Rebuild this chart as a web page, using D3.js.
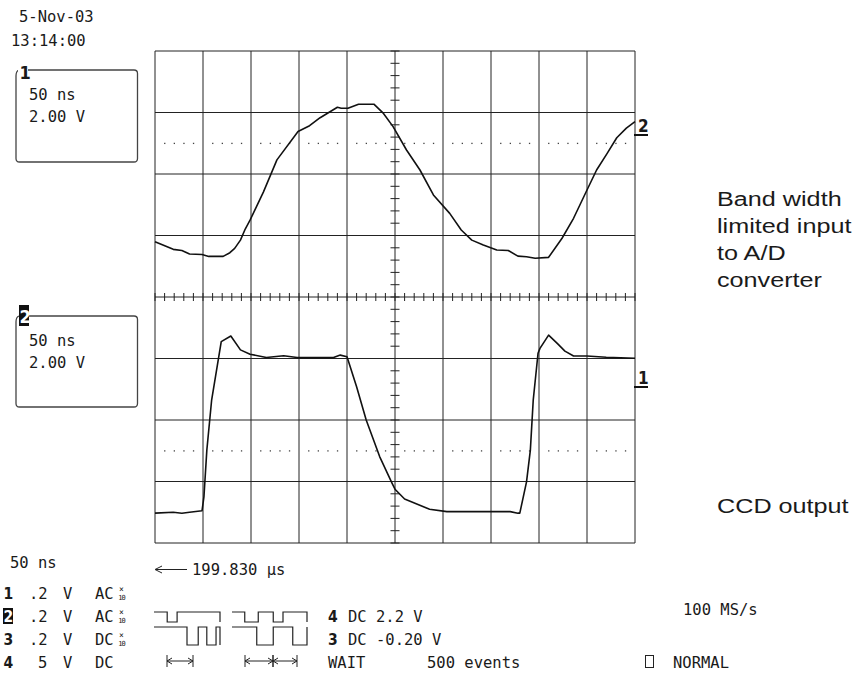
<!DOCTYPE html>
<html>
<head>
<meta charset="utf-8">
<script src="https://cdnjs.cloudflare.com/ajax/libs/d3/7.8.5/d3.min.js"></script>
<style>
  body { margin: 0; background: #fff; }
  text { font-family: "DejaVu Sans Mono", monospace; fill: #1a1a1a; }
</style>
</head>
<body>
<svg id="chart" width="864" height="674"></svg>
<script>
// channel 2 : band width limited input to A/D (time in ns, volts)
const ch2Time = [0, 19, 28, 36, 49, 56, 71, 78, 83, 89, 94, 99, 113, 127, 149, 161, 172, 190, 194, 201,
  212, 228, 238, 248, 262, 276, 290, 307, 319, 330, 342, 356, 368, 378, 387, 396, 410, 424, 436, 450,
  460, 471, 481, 491, 500];
const ch2Volts = [1.80, 1.55, 1.51, 1.40, 1.38, 1.32, 1.32, 1.44, 1.58, 1.85, 2.21, 2.50, 3.42, 4.46, 5.38,
  5.57, 5.83, 6.17, 6.14, 6.14, 6.27, 6.27, 5.97, 5.54, 4.78, 4.13, 3.32, 2.72, 2.18, 1.85, 1.69, 1.53,
  1.51, 1.33, 1.31, 1.26, 1.29, 1.91, 2.56, 3.48, 4.13, 4.67, 5.18, 5.49, 5.70];

// channel 1 : CCD output
const ch1Time = [0, 19, 28, 36, 49, 51, 54, 59, 69, 79, 89, 99, 116, 134, 148, 186, 193, 200, 210, 220,
  234, 247, 250, 260, 286, 304, 370, 378, 380, 387, 391, 394, 399, 401, 410, 419, 427, 436, 450, 470, 500];
const ch1Volts = [-7.03, -7.00, -7.03, -7.00, -6.95, -6.49, -4.98, -3.35, -1.45, -1.27, -1.72, -1.86, -1.97,
  -1.91, -1.97, -1.97, -1.89, -1.94, -2.92, -4.00, -5.19, -6.06, -6.25, -6.57, -6.90, -6.98, -6.98, -7.03,
  -7.03, -6.01, -4.98, -3.35, -1.83, -1.67, -1.24, -1.51, -1.76, -1.92, -1.92, -1.96, -1.99];

const gridTimes = d3.range(0, 501, 50);
const gridVolts = d3.range(-8, 8.01, 2);
const refVolts = [5, -5];          // dotted level lines

const stampLines = ['5-Nov-03', '13:14:00'];
const boxLines = ['50 ns', '2.00 V'];
const noteLines = ['Band width', 'limited input', 'to A/D', 'converter'];
const noteBottom = 'CCD output';

const chanIds = ['1', '2', '3', '4'];
const chanScale = ['.2', '.2', '.2', '5'];
const chanCoupling = ['AC', 'AC', 'DC', 'DC'];
const chanProbe = [true, true, true, false];

// trigger pattern icons: level toggles along a 0..1 run
const patternTop = [[0, 0.2, 0.35, 1], [0, 0.17, 0.35, 0.55, 0.68, 1]];
const patternLow = [[0, 0.5, 0.67, 0.8, 0.94, 1], [0, 0.33, 0.55, 0.81, 1]];

const svg = d3.select('#chart');
const x = d3.scaleLinear().domain([0, 500]).range([155, 635]);
const y = d3.scaleLinear().domain([-8, 8]).range([543, 51]);

// grid
const grid = svg.append('g').attr('stroke', '#222').attr('stroke-width', 1);
grid.selectAll('line.v').data(gridTimes).join('line')
  .attr('x1', d => x(d)).attr('x2', d => x(d))
  .attr('y1', y(8)).attr('y2', y(-8));
grid.selectAll('line.h').data(gridVolts).join('line')
  .attr('x1', x(0)).attr('x2', x(500))
  .attr('y1', d => y(d)).attr('y2', d => y(d));

// centre axes with minor ticks
const minorT = d3.range(0, 501, 10);
const minorV = d3.range(-8, 8.01, 0.4);
grid.selectAll('line.tx').data(minorT).join('line')
  .attr('x1', d => x(d)).attr('x2', d => x(d))
  .attr('y1', y(0) - 4).attr('y2', y(0) + 4);
grid.selectAll('line.ty').data(minorV).join('line')
  .attr('x1', x(250) - 4.5).attr('x2', x(250) + 4.5)
  .attr('y1', d => y(d)).attr('y2', d => y(d));

// dotted reference levels
refVolts.forEach(v => {
  svg.append('g').selectAll('rect').data(minorT.filter(t => t % 50 !== 0)).join('rect')
    .attr('x', d => x(d) - 0.5).attr('y', y(v) - 0.5)
    .attr('width', 1.3).attr('height', 1.3).attr('fill', '#444');
});

// traces
const line = d3.line().x(d => x(d[0])).y(d => y(d[1]));
[[ch2Time, ch2Volts], [ch1Time, ch1Volts]].forEach(([t, v]) => {
  svg.append('path')
    .attr('d', line(t.map((d, i) => [d, v[i]])))
    .attr('fill', 'none').attr('stroke', '#111').attr('stroke-width', 1.6)
    .attr('stroke-linejoin', 'round');
});

// trace markers on the right edge
[['2', 132], ['1', 384]].forEach(([id, base]) => {
  svg.append('text').attr('x', 638).attr('y', base)
    .style('font-family', '"DejaVu Sans Condensed", "DejaVu Sans", sans-serif')
    .style('font-weight', 'bold').style('font-size', '17px').text(id);
  svg.append('line').attr('x1', 634).attr('x2', 648)
    .attr('y1', base + 3).attr('y2', base + 3)
    .attr('stroke', '#111').attr('stroke-width', 2);
});

// time stamp
svg.selectAll('text.stamp').data(stampLines).join('text')
  .attr('x', (d, i) => i ? 11 : 19).attr('y', (d, i) => 22 + i * 24)
  .style('font-size', '15.5px').text(d => d);

// channel boxes
[[70, 162, '1'], [316, 407, '2']].forEach(([top, bottom, id], k) => {
  const r = 3.5, l = 16, rt = 137.5;
  svg.append('path')
    .attr('d', `M28,${top} H${rt - r} Q${rt},${top} ${rt},${top + r} V${bottom - r} Q${rt},${bottom} ${rt - r},${bottom}` +
      ` H${l + r} Q${l},${bottom} ${l},${bottom - r} V${top + 6} Q${l},${top + 1} ${l + 3},${top}`)
    .attr('fill', 'none').attr('stroke', '#444').attr('stroke-width', 1.3);
  if (k === 1) {
    svg.append('rect').attr('x', 19).attr('y', top - 11).attr('width', 10).attr('height', 21).attr('fill', '#111');
    svg.append('text').attr('x', 19.5).attr('y', top + 7)
      .style('fill', '#fff')
      .style('font-family', '"DejaVu Sans Condensed", "DejaVu Sans", sans-serif')
      .style('font-weight', 'bold').style('font-size', '18px').text(id);
  } else {
    svg.append('rect').attr('x', 18).attr('y', top - 8).attr('width', 10).attr('height', 18).attr('fill', '#fff');
    svg.append('text').attr('x', 19.5).attr('y', top + 9)
      .style('font-family', '"DejaVu Sans Condensed", "DejaVu Sans", sans-serif')
      .style('font-weight', 'bold').style('font-size', '18px').text(id);
  }
  svg.selectAll(null).data(boxLines).join('text')
    .attr('x', 29).attr('y', (d, i) => top + 30 + i * 22)
    .style('font-size', '15.5px').text(d => d);
});

// right side notes (source text is a little wider than Arial)
const notes = svg.append('g').attr('transform', 'translate(717,0) scale(1.2,1)');
notes.selectAll('text').data(noteLines).join('text')
  .attr('x', 0).attr('y', (d, i) => 206 + i * 27)
  .style('font-family', '"Liberation Sans", Arial, sans-serif').style('font-size', '21px').text(d => d);
notes.append('text').attr('x', 0).attr('y', 513)
  .style('font-family', '"Liberation Sans", Arial, sans-serif').style('font-size', '21px').text(noteBottom);

// bottom status area
const mono = svg.append('g').style('font-size', '15.5px');
mono.append('text').attr('x', 10).attr('y', 568).text('50 ns');
mono.append('line').attr('x1', 156).attr('x2', 187).attr('y1', 569.5).attr('y2', 569.5)
  .attr('stroke', '#222').attr('stroke-width', 1);
mono.append('path').attr('d', 'M162,566 L155,569.5 L162,573').attr('fill', 'none').attr('stroke', '#222');
mono.append('text').attr('x', 192).attr('y', 575).text('199.830 µs');

const rowY = [599, 622, 645, 668];
chanIds.forEach((id, i) => {
  const by = rowY[i];
  if (id === '2') {
    mono.append('rect').attr('x', 3).attr('y', by - 14).attr('width', 10).attr('height', 16).attr('fill', '#111');
    mono.append('text').attr('x', 3.5).attr('y', by).style('fill', '#fff')
      .style('font-family', '"DejaVu Sans Condensed", sans-serif').style('font-weight', 'bold').text(id);
  } else {
    mono.append('text').attr('x', 3.5).attr('y', by)
      .style('font-family', '"DejaVu Sans Condensed", sans-serif').style('font-weight', 'bold').text(id);
  }
  mono.append('text').attr('x', chanScale[i].length > 1 ? 29 : 38).attr('y', by).text(chanScale[i]);
  mono.append('text').attr('x', 63).attr('y', by).text('V');
  mono.append('text').attr('x', 95).attr('y', by).text(chanCoupling[i]);
  if (chanProbe[i]) {
    mono.append('text').attr('x', 121.5).attr('y', by - 7).attr('text-anchor', 'middle')
      .style('font-size', '8px').text('×');
    mono.append('text').attr('x', 121.5).attr('y', by + 0.5).attr('text-anchor', 'middle')
      .style('font-size', '7px').style('letter-spacing', '-1px').text('10');
  }
});

// pattern icons
const step = d3.line().curve(d3.curveStepAfter);
const iconSpans = [[154, 220], [232, 307]];
[[patternTop, 612, 622], [patternLow, 627, 645]].forEach(([pats, hi, lo]) => {
  pats.forEach((p, k) => {
    const px = d3.scaleLinear().range(iconSpans[k]);
    const pts = p.map((d, j) => [px(d), j % 2 === 0 ? hi : lo]);
    pts.push([px(1), pts[pts.length - 1][1]]);
    svg.append('path').attr('d', step(pts)).attr('fill', 'none')
      .attr('stroke', '#222').attr('stroke-width', 1.2);
  });
});
// interval markers
[[167, 193], [245, 273], [273, 297]].forEach(([a, b]) => {
  const g = svg.append('g').attr('stroke', '#222').attr('fill', 'none').attr('stroke-width', 1);
  g.append('line').attr('x1', a).attr('x2', a).attr('y1', 655).attr('y2', 667);
  g.append('line').attr('x1', b).attr('x2', b).attr('y1', 655).attr('y2', 667);
  g.append('line').attr('x1', a).attr('x2', b).attr('y1', 661).attr('y2', 661);
  g.append('path').attr('d', `M${a + 5},658 L${a},661 L${a + 5},664 M${b - 5},658 L${b},661 L${b - 5},664`);
});

mono.append('text').attr('x', 328).attr('y', 622)
  .style('font-family', '"DejaVu Sans Condensed", sans-serif').style('font-weight', 'bold').text('4');
mono.append('text').attr('x', 348).attr('y', 622).text('DC 2.2 V');
mono.append('text').attr('x', 328).attr('y', 645)
  .style('font-family', '"DejaVu Sans Condensed", sans-serif').style('font-weight', 'bold').text('3');
mono.append('text').attr('x', 348).attr('y', 645).text('DC -0.20 V');
mono.append('text').attr('x', 328).attr('y', 668).text('WAIT');
mono.append('text').attr('x', 427).attr('y', 668).text('500 events');
mono.append('text').attr('x', 683).attr('y', 615).text('100 MS/s');
mono.append('rect').attr('x', 645.5).attr('y', 655.5).attr('width', 8).attr('height', 12)
  .attr('fill', 'none').attr('stroke', '#222');
mono.append('text').attr('x', 673).attr('y', 668).text('NORMAL');
</script>
</body>
</html>
